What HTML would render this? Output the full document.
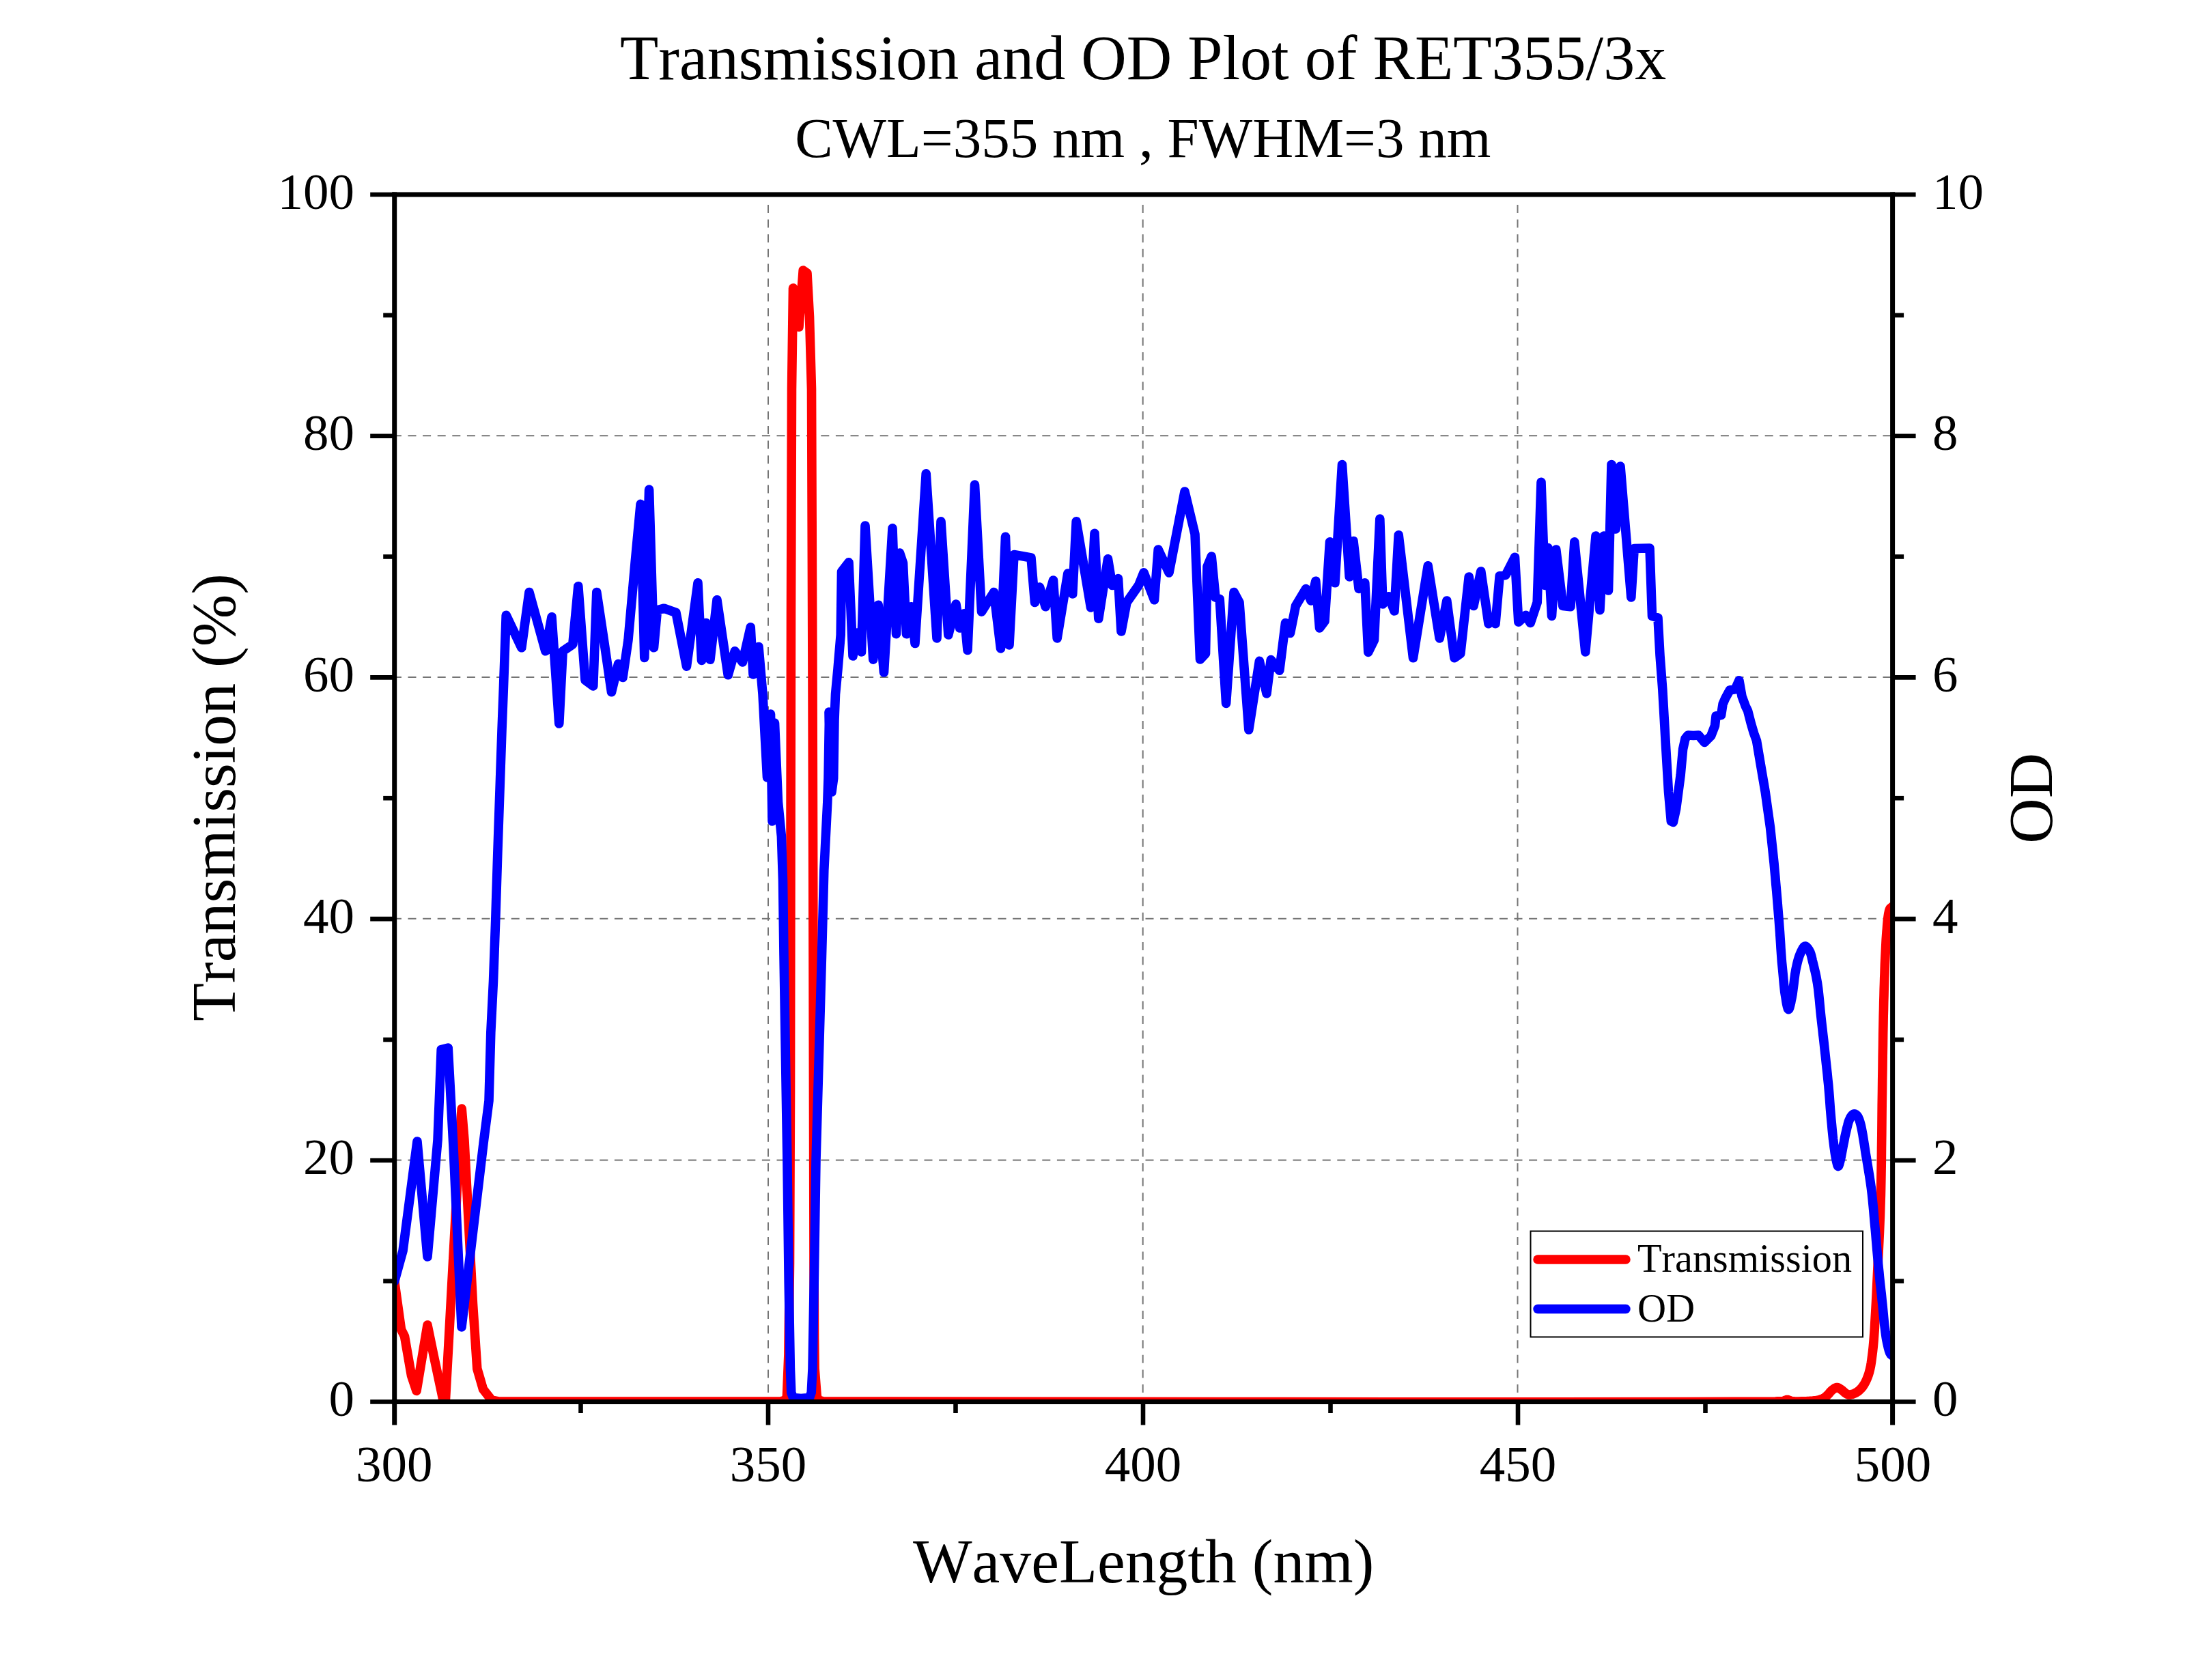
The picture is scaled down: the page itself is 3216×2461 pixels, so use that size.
<!DOCTYPE html>
<html lang="en"><head><meta charset="utf-8"><title>Transmission and OD Plot of RET355/3x</title>
<style>html,body{margin:0;padding:0;background:#fff}body{width:3216px;height:2461px;overflow:hidden}svg{display:block}text{font-family:"Liberation Serif",serif;fill:#000;font-kerning:none;font-variant-ligatures:none}</style></head><body>
<svg width="3216" height="2461" viewBox="0 0 3216 2461">
<rect width="3216" height="2461" fill="#fff"/>
<defs><clipPath id="pc"><rect x="577.7" y="285.0" width="2193.9" height="1768.5"/></clipPath></defs>
<g stroke="#757575" stroke-width="2.0" stroke-dasharray="12 9.6" fill="none">
<line x1="575.9" y1="1699.4" x2="2771.6" y2="1699.4"/>
<line x1="575.9" y1="1345.7" x2="2771.6" y2="1345.7"/>
<line x1="575.9" y1="992.0" x2="2771.6" y2="992.0"/>
<line x1="575.9" y1="638.3" x2="2771.6" y2="638.3"/>
<line x1="1125.0" y1="300.0" x2="1125.0" y2="2053.5"/>
<line x1="1673.7" y1="300.0" x2="1673.7" y2="2053.5"/>
<line x1="2222.5" y1="300.0" x2="2222.5" y2="2053.5"/>
</g>
<g clip-path="url(#pc)" fill="none" stroke-linejoin="round" stroke-linecap="round" stroke-width="13.6">
<path stroke="#ff0000" d="M577.7 1877.0 L587.5 1947.5 L592.5 1957.5 L602.5 2015.0 L610.0 2037.5 L626.0 1941.0 L635.0 1985.0 L648.8 2050.0 L652.5 2050.0 L673.8 1660.0 L676.2 1624.0 L680.0 1670.0 L692.5 1910.0 L698.8 2005.0 L707.5 2035.0 L720.0 2051.0 L730.0 2053.0 L1143.0 2053.0 L1150.0 2051.0 L1152.4 2046.0 L1154.9 1984.0 L1156.5 1850.0 L1157.5 1600.0 L1158.5 900.0 L1159.5 570.0 L1161.5 422.0 L1166.0 440.0 L1170.0 479.0 L1176.2 396.0 L1182.0 400.0 L1185.5 464.0 L1188.5 570.0 L1190.0 1000.0 L1191.0 1400.0 L1192.0 1850.0 L1192.6 1961.0 L1193.2 2005.0 L1196.3 2046.0 L1199.0 2051.0 L1206.0 2053.0 L1304.0 2053.1 L1550.6 2053.4 L1874.6 2053.6 L2204.9 2053.8 L2470.4 2053.6 L2600.0 2053.0 L2602.9 2052.9 L2605.1 2052.9 L2606.8 2052.9 L2608.2 2052.8 L2609.6 2052.7 L2611.0 2052.5 L2612.2 2052.2 L2613.3 2051.8 L2614.4 2051.3 L2615.4 2050.9 L2616.4 2050.6 L2617.5 2050.5 L2618.5 2050.6 L2619.5 2050.9 L2620.4 2051.3 L2621.5 2051.8 L2622.6 2052.2 L2624.0 2052.5 L2628.0 2052.8 L2633.1 2053.0 L2638.9 2052.9 L2644.8 2052.7 L2650.3 2052.4 L2655.0 2052.0 L2657.5 2051.7 L2659.9 2051.5 L2662.1 2051.1 L2664.2 2050.7 L2666.1 2050.2 L2668.0 2049.5 L2669.5 2048.8 L2670.9 2048.0 L2672.3 2047.1 L2673.5 2046.1 L2674.8 2045.1 L2676.0 2044.0 L2677.2 2042.8 L2678.4 2041.5 L2679.5 2040.2 L2680.6 2038.8 L2681.8 2037.6 L2683.0 2036.5 L2684.1 2035.6 L2685.3 2034.7 L2686.4 2033.9 L2687.6 2033.2 L2688.8 2032.7 L2690.0 2032.5 L2691.2 2032.6 L2692.4 2033.1 L2693.6 2033.7 L2694.7 2034.4 L2695.9 2035.2 L2697.0 2036.0 L2698.1 2036.8 L2699.1 2037.7 L2700.1 2038.6 L2701.1 2039.5 L2702.0 2040.3 L2703.0 2041.0 L2703.7 2041.5 L2704.5 2041.9 L2705.2 2042.3 L2705.9 2042.6 L2706.7 2042.9 L2707.5 2043.0 L2708.6 2043.0 L2709.9 2042.9 L2711.1 2042.7 L2712.5 2042.4 L2713.8 2042.0 L2715.0 2041.5 L2716.3 2041.0 L2717.6 2040.3 L2718.8 2039.6 L2720.1 2038.8 L2721.3 2038.0 L2722.5 2037.0 L2723.8 2035.8 L2725.1 2034.5 L2726.4 2033.0 L2727.7 2031.5 L2728.8 2029.8 L2730.0 2028.0 L2731.4 2025.5 L2732.8 2022.7 L2734.1 2019.8 L2735.3 2016.7 L2736.5 2013.4 L2737.5 2010.0 L2738.6 2005.6 L2739.6 2000.9 L2740.4 1996.0 L2741.1 1990.9 L2741.8 1985.5 L2742.5 1980.0 L2743.3 1972.5 L2744.0 1964.7 L2744.6 1956.4 L2745.2 1947.9 L2745.7 1939.1 L2746.2 1930.0 L2746.9 1918.4 L2747.6 1906.1 L2748.2 1893.5 L2748.8 1880.6 L2749.4 1867.7 L2750.0 1855.0 L2750.6 1842.4 L2751.3 1829.7 L2751.9 1817.0 L2752.5 1804.4 L2753.0 1792.0 L2753.5 1780.0 L2753.8 1769.9 L2754.1 1760.3 L2754.4 1750.9 L2754.6 1741.3 L2754.8 1731.1 L2755.0 1720.0 L2755.3 1702.3 L2755.5 1682.6 L2755.8 1661.9 L2756.0 1640.7 L2756.2 1619.8 L2756.5 1600.0 L2756.7 1582.5 L2757.0 1565.1 L2757.2 1547.8 L2757.5 1531.1 L2757.7 1515.1 L2758.0 1500.0 L2758.2 1489.0 L2758.5 1478.4 L2758.7 1468.3 L2759.0 1458.5 L2759.2 1449.1 L2759.5 1440.0 L2759.7 1432.8 L2760.0 1426.0 L2760.2 1419.3 L2760.4 1412.8 L2760.7 1406.4 L2761.0 1400.0 L2761.3 1394.0 L2761.6 1387.9 L2761.9 1382.0 L2762.2 1376.1 L2762.6 1370.5 L2763.0 1365.0 L2763.4 1360.4 L2763.7 1355.9 L2764.1 1351.4 L2764.5 1347.2 L2765.0 1343.4 L2765.5 1340.0 L2765.8 1338.2 L2766.2 1336.4 L2766.5 1334.9 L2766.9 1333.4 L2767.4 1332.1 L2768.0 1331.0 L2768.6 1330.3 L2769.4 1329.6 L2770.2 1329.0 L2770.9 1328.5 L2771.4 1328.1 L2771.6 1328.0"/>
<path stroke="#0000ff" d="M577.7 1877.0 L590.0 1832.5 L611.0 1672.0 L626.0 1841.0 L641.0 1670.0 L646.2 1537.5 L656.2 1535.0 L664.0 1680.0 L676.0 1944.0 L708.0 1675.0 L716.0 1612.5 L718.8 1512.5 L722.5 1437.5 L725.8 1345.8 L728.8 1250.0 L735.0 1070.0 L737.5 1005.0 L741.2 901.2 L763.8 948.8 L775.0 867.5 L798.8 953.8 L808.0 903.8 L818.8 1060.0 L824.2 953.8 L838.8 943.8 L846.8 858.8 L857.0 996.2 L868.8 1005.0 L873.8 867.5 L883.8 933.8 L895.5 1013.8 L905.5 972.5 L912.0 992.5 L920.0 937.5 L930.0 825.0 L938.1 738.4 L943.8 963.5 L950.6 717.1 L957.5 948.8 L962.5 893.8 L972.5 891.2 L990.0 897.5 L1005.5 976.2 L1022.0 853.8 L1027.5 967.5 L1033.8 912.5 L1040.0 966.2 L1050.0 878.8 L1066.2 988.8 L1076.2 953.8 L1087.5 970.0 L1099.2 918.8 L1103.0 988.0 L1111.0 947.5 L1117.0 1017.0 L1123.5 1139.0 L1128.5 1046.0 L1131.0 1203.0 L1134.5 1059.0 L1139.5 1175.0 L1144.4 1225.0 L1146.5 1290.0 L1148.0 1400.0 L1152.9 1700.0 L1155.2 1880.0 L1157.4 2005.0 L1158.8 2040.0 L1161.5 2047.5 L1173.0 2048.5 L1185.5 2047.5 L1188.2 2040.0 L1190.0 2005.0 L1192.2 1880.0 L1195.0 1700.0 L1203.5 1400.0 L1206.8 1275.0 L1211.8 1175.0 L1213.0 1140.0 L1214.3 1061.0 L1214.0 1043.0 L1218.0 1160.0 L1220.7 1140.0 L1222.0 1055.0 L1223.5 1017.0 L1227.0 980.0 L1231.2 930.0 L1232.5 837.5 L1243.0 823.8 L1249.0 961.0 L1255.0 927.0 L1261.5 955.0 L1267.0 770.0 L1278.8 966.2 L1286.2 886.2 L1294.5 985.0 L1307.0 773.8 L1312.5 928.8 L1317.5 810.0 L1322.5 825.0 L1327.5 928.8 L1334.5 888.8 L1340.0 942.5 L1356.2 693.8 L1372.0 935.0 L1378.0 763.8 L1388.8 930.0 L1400.0 885.0 L1405.5 920.0 L1412.0 898.8 L1417.0 952.5 L1427.5 710.0 L1437.5 896.2 L1455.5 867.5 L1465.5 950.0 L1472.5 786.2 L1478.0 945.0 L1485.0 812.5 L1510.0 817.0 L1515.5 882.5 L1522.5 860.0 L1531.2 888.8 L1542.5 850.0 L1548.2 935.0 L1563.8 840.0 L1570.8 870.0 L1576.2 763.8 L1597.5 890.0 L1603.0 781.2 L1608.8 906.2 L1622.5 818.8 L1628.8 857.5 L1637.5 847.5 L1642.0 925.0 L1650.0 882.5 L1667.5 857.5 L1675.0 838.8 L1690.5 878.8 L1696.2 805.0 L1712.0 839.0 L1735.0 720.0 L1750.0 782.5 L1757.5 966.0 L1765.5 957.5 L1768.0 830.0 L1774.2 815.0 L1780.0 875.0 L1786.2 877.5 L1795.6 1030.4 L1807.0 867.5 L1815.0 882.5 L1828.8 1069.0 L1844.4 968.4 L1855.0 1016.0 L1861.2 966.5 L1873.8 982.2 L1882.5 912.5 L1889.5 927.5 L1897.5 887.5 L1912.5 862.5 L1920.0 880.0 L1926.8 851.2 L1932.5 920.0 L1940.0 910.0 L1947.5 793.8 L1955.0 853.8 L1965.5 680.5 L1976.2 845.0 L1982.0 792.5 L1990.0 862.5 L1998.8 853.8 L2003.8 955.4 L2012.5 937.5 L2020.8 760.0 L2025.0 885.0 L2033.8 873.8 L2042.0 895.0 L2048.2 783.8 L2069.5 963.8 L2091.2 828.8 L2108.2 935.0 L2118.8 880.0 L2130.0 963.8 L2138.8 957.5 L2151.2 845.0 L2158.0 887.5 L2168.8 837.0 L2180.0 913.8 L2185.0 908.8 L2190.0 913.8 L2196.2 843.8 L2205.0 842.5 L2218.5 816.2 L2223.8 911.2 L2234.5 901.2 L2241.2 912.5 L2251.2 882.5 L2257.0 706.2 L2262.5 857.5 L2267.0 802.5 L2272.5 902.5 L2278.8 805.0 L2288.8 887.5 L2300.0 888.8 L2305.8 793.8 L2321.8 955.0 L2337.0 785.0 L2343.0 893.8 L2348.8 785.0 L2355.5 865.0 L2360.0 680.5 L2366.2 775.0 L2373.0 683.0 L2388.8 875.0 L2393.2 803.5 L2416.0 803.0 L2419.5 902.5 L2428.0 905.0 L2431.0 960.0 L2434.8 1010.0 L2439.8 1097.5 L2443.5 1160.0 L2447.3 1203.0 L2450.3 1204.5 L2454.6 1185.0 L2461.2 1135.0 L2464.6 1097.5 L2468.0 1082.0 L2472.0 1077.0 L2480.0 1077.5 L2487.5 1077.0 L2496.2 1087.5 L2505.7 1078.0 L2511.5 1063.0 L2513.0 1049.0 L2520.6 1047.5 L2523.1 1031.2 L2526.7 1022.9 L2533.2 1011.0 L2541.1 1009.8 L2546.9 996.7 L2551.0 1020.0 L2556.5 1035.0 L2559.5 1041.0 L2564.4 1060.0 L2568.5 1074.0 L2572.5 1085.0 L2578.8 1122.5 L2585.2 1160.0 L2589.4 1190.0 L2592.5 1212.0 L2598.1 1265.0 L2598.3 1267.5 L2598.9 1274.3 L2599.8 1283.7 L2600.7 1294.6 L2601.7 1305.5 L2602.5 1315.0 L2603.2 1323.4 L2603.9 1332.0 L2604.6 1340.6 L2605.3 1349.0 L2605.9 1357.2 L2606.5 1365.0 L2606.9 1371.3 L2607.3 1377.3 L2607.7 1383.3 L2608.0 1389.0 L2608.4 1394.6 L2608.8 1400.0 L2609.1 1404.4 L2609.4 1408.5 L2609.8 1412.5 L2610.2 1416.6 L2610.6 1420.7 L2611.0 1425.0 L2611.5 1430.3 L2612.0 1436.0 L2612.5 1441.7 L2613.1 1447.4 L2613.7 1452.9 L2614.5 1458.0 L2615.2 1462.2 L2615.9 1466.8 L2616.7 1471.3 L2617.6 1475.1 L2618.4 1477.7 L2619.2 1478.8 L2620.0 1478.0 L2620.8 1476.0 L2621.6 1473.0 L2622.5 1469.4 L2623.2 1465.6 L2624.0 1462.0 L2625.1 1456.0 L2626.0 1448.9 L2627.0 1441.3 L2627.9 1433.7 L2628.9 1426.4 L2630.0 1420.0 L2630.9 1415.8 L2631.8 1411.8 L2632.7 1408.1 L2633.7 1404.5 L2634.8 1401.1 L2636.0 1398.0 L2637.1 1395.5 L2638.3 1392.8 L2639.6 1390.3 L2640.9 1388.2 L2642.2 1386.6 L2643.5 1386.0 L2644.6 1386.2 L2645.7 1387.0 L2646.9 1388.3 L2648.0 1389.8 L2649.1 1391.4 L2650.0 1393.0 L2651.1 1395.3 L2652.0 1397.8 L2652.8 1400.6 L2653.5 1403.6 L2654.2 1406.8 L2655.0 1410.0 L2656.1 1414.4 L2657.2 1419.1 L2658.4 1424.0 L2659.5 1429.1 L2660.5 1434.4 L2661.5 1440.0 L2662.6 1447.6 L2663.5 1455.7 L2664.4 1464.2 L2665.2 1472.9 L2666.0 1481.5 L2666.9 1490.0 L2667.8 1498.3 L2668.8 1506.7 L2669.7 1515.0 L2670.7 1523.3 L2671.6 1531.7 L2672.5 1540.0 L2673.4 1548.3 L2674.3 1556.7 L2675.2 1565.0 L2676.1 1573.3 L2676.9 1581.7 L2677.8 1590.0 L2678.5 1598.4 L2679.2 1606.9 L2679.8 1615.3 L2680.4 1623.7 L2681.1 1632.0 L2681.8 1640.0 L2682.5 1647.1 L2683.1 1654.1 L2683.8 1661.1 L2684.5 1667.8 L2685.3 1674.1 L2686.0 1680.0 L2686.6 1684.0 L2687.1 1687.9 L2687.7 1691.6 L2688.3 1695.1 L2688.9 1698.2 L2689.5 1701.0 L2689.9 1702.7 L2690.3 1704.3 L2690.7 1705.9 L2691.1 1707.3 L2691.6 1708.2 L2692.0 1708.5 L2692.5 1708.2 L2692.9 1707.3 L2693.4 1705.9 L2693.9 1704.4 L2694.3 1702.7 L2694.8 1701.0 L2695.5 1698.1 L2696.2 1694.8 L2696.9 1691.2 L2697.6 1687.4 L2698.3 1683.7 L2699.0 1680.0 L2699.7 1676.3 L2700.5 1672.6 L2701.2 1668.8 L2701.9 1665.1 L2702.7 1661.5 L2703.5 1658.0 L2704.2 1654.9 L2704.9 1651.9 L2705.7 1648.9 L2706.4 1646.0 L2707.2 1643.3 L2708.1 1641.0 L2708.7 1639.6 L2709.3 1638.2 L2709.9 1637.0 L2710.6 1635.9 L2711.3 1634.9 L2712.0 1634.0 L2712.6 1633.4 L2713.1 1632.9 L2713.7 1632.5 L2714.4 1632.1 L2715.0 1631.8 L2715.6 1631.8 L2716.3 1631.8 L2716.9 1632.1 L2717.6 1632.4 L2718.3 1632.9 L2718.9 1633.4 L2719.5 1634.0 L2720.2 1634.9 L2720.9 1635.9 L2721.5 1637.0 L2722.0 1638.3 L2722.6 1639.6 L2723.1 1641.0 L2723.8 1643.2 L2724.5 1645.6 L2725.2 1648.2 L2725.8 1651.0 L2726.4 1653.9 L2727.0 1657.0 L2727.9 1661.7 L2728.7 1666.9 L2729.6 1672.3 L2730.5 1678.0 L2731.4 1684.0 L2732.3 1690.0 L2733.6 1697.7 L2735.0 1705.9 L2736.4 1714.3 L2737.8 1722.9 L2739.1 1731.5 L2740.3 1740.0 L2741.3 1748.3 L2742.2 1756.7 L2743.0 1765.0 L2743.8 1773.3 L2744.5 1781.7 L2745.2 1790.0 L2746.0 1798.4 L2746.8 1807.0 L2747.5 1815.6 L2748.2 1824.0 L2748.9 1832.2 L2749.6 1840.0 L2750.2 1846.2 L2750.7 1852.2 L2751.3 1858.1 L2751.9 1863.8 L2752.4 1869.4 L2753.0 1875.0 L2753.5 1880.1 L2754.1 1885.0 L2754.6 1889.9 L2755.2 1894.8 L2755.7 1899.8 L2756.2 1905.0 L2756.9 1911.1 L2757.5 1917.5 L2758.1 1924.0 L2758.7 1930.4 L2759.3 1936.6 L2760.0 1942.5 L2760.6 1947.0 L2761.1 1951.4 L2761.7 1955.7 L2762.3 1959.8 L2763.0 1963.7 L2763.8 1967.5 L2764.5 1970.6 L2765.2 1973.8 L2766.0 1976.8 L2766.9 1979.6 L2767.8 1982.0 L2768.8 1983.8 L2769.3 1984.4 L2769.9 1984.9 L2770.5 1985.4 L2771.1 1985.7 L2771.5 1985.9 L2771.6 1986.0"/>
</g>
<g stroke="#000" stroke-width="7.0" fill="none" stroke-linecap="butt">
<line x1="574.2" y1="285.0" x2="2775.1" y2="285.0"/>
<line x1="574.2" y1="2053.5" x2="2775.1" y2="2053.5"/>
<line x1="577.7" y1="281.5" x2="577.7" y2="2087.5"/>
<line x1="2771.6" y1="281.5" x2="2771.6" y2="2087.5"/>
</g>
<g stroke="#000" stroke-width="6.6" fill="none" stroke-linecap="butt">
<line x1="542.2" y1="2053.5" x2="577.7" y2="2053.5"/>
<line x1="2771.6" y1="2053.5" x2="2805.6" y2="2053.5"/>
<line x1="561.2" y1="1876.7" x2="577.7" y2="1876.7"/>
<line x1="2771.6" y1="1876.7" x2="2788.1" y2="1876.7"/>
<line x1="542.2" y1="1699.8" x2="577.7" y2="1699.8"/>
<line x1="2771.6" y1="1699.8" x2="2805.6" y2="1699.8"/>
<line x1="561.2" y1="1523.0" x2="577.7" y2="1523.0"/>
<line x1="2771.6" y1="1523.0" x2="2788.1" y2="1523.0"/>
<line x1="542.2" y1="1346.1" x2="577.7" y2="1346.1"/>
<line x1="2771.6" y1="1346.1" x2="2805.6" y2="1346.1"/>
<line x1="561.2" y1="1169.2" x2="577.7" y2="1169.2"/>
<line x1="2771.6" y1="1169.2" x2="2788.1" y2="1169.2"/>
<line x1="542.2" y1="992.4" x2="577.7" y2="992.4"/>
<line x1="2771.6" y1="992.4" x2="2805.6" y2="992.4"/>
<line x1="561.2" y1="815.5" x2="577.7" y2="815.5"/>
<line x1="2771.6" y1="815.5" x2="2788.1" y2="815.5"/>
<line x1="542.2" y1="638.7" x2="577.7" y2="638.7"/>
<line x1="2771.6" y1="638.7" x2="2805.6" y2="638.7"/>
<line x1="561.2" y1="461.8" x2="577.7" y2="461.8"/>
<line x1="2771.6" y1="461.8" x2="2788.1" y2="461.8"/>
<line x1="542.2" y1="285.0" x2="577.7" y2="285.0"/>
<line x1="2771.6" y1="285.0" x2="2805.6" y2="285.0"/>
<line x1="850.5" y1="2053.5" x2="850.5" y2="2070.0"/>
<line x1="1125.0" y1="2053.5" x2="1125.0" y2="2087.5"/>
<line x1="1399.5" y1="2053.5" x2="1399.5" y2="2070.0"/>
<line x1="1674.0" y1="2053.5" x2="1674.0" y2="2087.5"/>
<line x1="1948.5" y1="2053.5" x2="1948.5" y2="2070.0"/>
<line x1="2223.0" y1="2053.5" x2="2223.0" y2="2087.5"/>
<line x1="2497.5" y1="2053.5" x2="2497.5" y2="2070.0"/>
</g>
<g font-size="75">
<text x="519" y="2074.0" text-anchor="end">0</text>
<text x="2830" y="2074.0" text-anchor="start">0</text>
<text x="519" y="1720.3" text-anchor="end">20</text>
<text x="2830" y="1720.3" text-anchor="start">2</text>
<text x="519" y="1366.6" text-anchor="end">40</text>
<text x="2830" y="1366.6" text-anchor="start">4</text>
<text x="519" y="1012.9" text-anchor="end">60</text>
<text x="2830" y="1012.9" text-anchor="start">6</text>
<text x="519" y="659.2" text-anchor="end">80</text>
<text x="2830" y="659.2" text-anchor="start">8</text>
<text x="519" y="305.5" text-anchor="end">100</text>
<text x="2830" y="305.5" text-anchor="start">10</text>
<text x="577.3" y="2170" text-anchor="middle">300</text>
<text x="1125.0" y="2170" text-anchor="middle">350</text>
<text x="1674.0" y="2170" text-anchor="middle">400</text>
<text x="2223.0" y="2170" text-anchor="middle">450</text>
<text x="2772.0" y="2170" text-anchor="middle">500</text>
</g>
<text x="1674.1" y="116" font-size="92.1" text-anchor="middle">Transmission and OD Plot of RET355/3x</text>
<text x="1673.8" y="230" font-size="83.1" text-anchor="middle">CWL=355 nm , FWHM=3 nm</text>
<text x="1674.6" y="2318" font-size="91.8" text-anchor="middle">WaveLength (nm)</text>
<text transform="translate(344.3 1168.1) rotate(-90)" font-size="91.9" text-anchor="middle">Transmission (%)</text>
<text transform="translate(3005.3 1169.3) rotate(-90)" font-size="92" text-anchor="middle">OD</text>
<rect x="2241.5" y="1803.5" width="486.5" height="155" fill="none" stroke="#000" stroke-width="2"/>
<line x1="2252" y1="1845" x2="2381" y2="1845" stroke="#ff0000" stroke-width="13.5" stroke-linecap="round"/>
<line x1="2252" y1="1917.5" x2="2381" y2="1917.5" stroke="#0000ff" stroke-width="13.5" stroke-linecap="round"/>
<text x="2398" y="1863" font-size="58.3">Transmission</text>
<text x="2398" y="1935.5" font-size="58.3">OD</text>
</svg></body></html>
